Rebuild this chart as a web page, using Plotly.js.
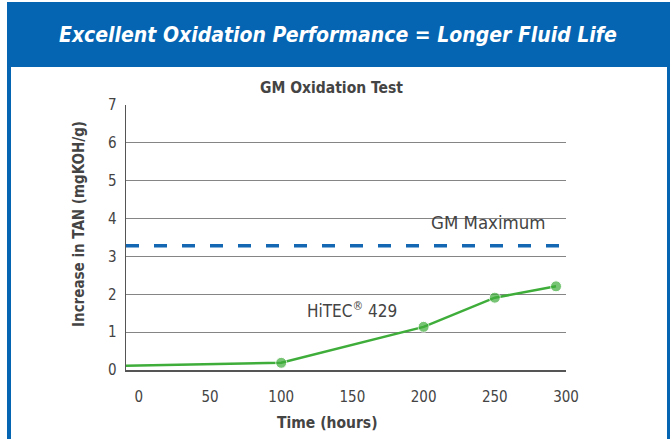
<!DOCTYPE html>
<html>
<head>
<meta charset="utf-8">
<script src="https://cdn.plot.ly/plotly-3.0.1.min.js"></script>
<style>
  html, body { margin: 0; padding: 0; background: #ffffff; }
  #chart { width: 672px; height: 439px; }
  #chart svg text { font-stretch: condensed !important; }
</style>
</head>
<body>
<div id="chart"></div>
<script>
// ---- data ----
const hours = [-9, 100, 200, 250, 293];
const tanIncrease = [0.11, 0.19, 1.14, 1.91, 2.21];
const showMarker = [0, 11, 11, 11, 11];
const gmMaxHours = [-9, 300];
const gmMaxValue = [3.28, 3.28];
const xTicks = [0, 50, 100, 150, 200, 250, 300];
const yTicks = [0, 1, 2, 3, 4, 5, 6, 7];

const headerText = "Excellent Oxidation Performance = Longer Fluid Life";
const chartTitle = "GM Oxidation Test";
const xTitle = "Time (hours)";
const yTitle = "Increase in TAN (mgKOH/g)";
const seriesLabel = "HiTEC<sup>\u00AE</sup> 429";
const limitLabel = "GM Maximum";

// ---- layout geometry (pixels) ----
const W = 672, H = 439;
const M = { l: 126, r: 106, t: 105, b: 69 };
const pw = W - M.l - M.r, ph = H - M.t - M.b;
const px = x => (x - M.l) / pw;
const py = y => (H - M.b - y) / ph;

const FONT = "DejaVu Sans Condensed, DejaVu Sans, sans-serif";
const BLUE = "#0565b2";
const GREEN = "#3ead3a";
const TXT = "#444444";

const traces = [
  {
    x: gmMaxHours, y: gmMaxValue, type: "scatter", mode: "lines",
    line: { color: "#1467b3", width: 3.5, dash: "13px,15px" },
    hoverinfo: "skip", showlegend: false
  },
  {
    x: hours, y: tanIncrease, type: "scatter", mode: "lines+markers",
    line: { color: GREEN, width: 2.5 },
    marker: { color: GREEN, size: showMarker },
    showlegend: false
  }
];

const layout = {
  width: W, height: H,
  margin: M,
  paper_bgcolor: "#ffffff", plot_bgcolor: "#ffffff",
  font: { family: FONT, color: TXT },
  showlegend: false,
  xaxis: {
    range: [-9, 300],
    tickvals: xTicks, ticktext: xTicks.map(String),
    showgrid: false, zeroline: false,
    showline: true, linecolor: "#555555", linewidth: 1.5,
    ticks: "", ticklabelstandoff: 12,
    tickfont: { family: FONT, size: 15, color: TXT }
  },
  yaxis: {
    range: [0, 7],
    tickvals: yTicks, ticktext: yTicks.map(String),
    showgrid: true, gridcolor: "#858585", gridwidth: 1,
    zeroline: false,
    showline: true, linecolor: "#555555", linewidth: 1.5,
    ticks: "", ticklabelstandoff: 5,
    tickfont: { family: FONT, size: 15, color: TXT }
  },
  shapes: [
    { type: "rect", xref: "paper", yref: "paper", x0: px(7), x1: px(670), y0: py(67), y1: py(2),
      fillcolor: BLUE, line: { width: 0 }, layer: "above" },
    { type: "rect", xref: "paper", yref: "paper", x0: px(7), x1: px(11), y0: py(439), y1: py(67),
      fillcolor: BLUE, line: { width: 0 }, layer: "above" },
    { type: "rect", xref: "paper", yref: "paper", x0: px(667), x1: px(670), y0: py(439), y1: py(67),
      fillcolor: BLUE, line: { width: 0 }, layer: "above" }
  ],
  annotations: [
    { text: "<b><i>" + headerText + "</i></b>", xref: "paper", yref: "paper",
      x: px(338), y: py(35), xanchor: "center", yanchor: "middle", showarrow: false,
      font: { family: FONT, size: 21, color: "#ffffff" } },
    { text: "<b>" + chartTitle + "</b>", xref: "paper", yref: "paper",
      x: px(331), y: py(88), xanchor: "center", yanchor: "middle", showarrow: false,
      font: { family: FONT, size: 15.5, color: TXT } },
    { text: "<b>" + xTitle + "</b>", xref: "paper", yref: "paper",
      x: px(327), y: py(423), xanchor: "center", yanchor: "middle", showarrow: false,
      font: { family: FONT, size: 15.5, color: TXT } },
    { text: "<b>" + yTitle + "</b>", xref: "paper", yref: "paper", textangle: -90,
      x: px(79), y: py(224), xanchor: "center", yanchor: "middle", showarrow: false,
      font: { family: FONT, size: 15, color: TXT } },
    { text: limitLabel, xref: "paper", yref: "paper",
      x: px(488), y: py(222), xanchor: "center", yanchor: "middle", showarrow: false,
      font: { family: FONT, size: 18.5, color: TXT } },
    { text: seriesLabel, xref: "paper", yref: "paper",
      x: px(352), y: py(310), xanchor: "center", yanchor: "middle", showarrow: false,
      font: { family: FONT, size: 17, color: TXT } }
  ]
};

Plotly.newPlot("chart", traces, layout, { displayModeBar: false, staticPlot: true });
</script>
</body>
</html>
